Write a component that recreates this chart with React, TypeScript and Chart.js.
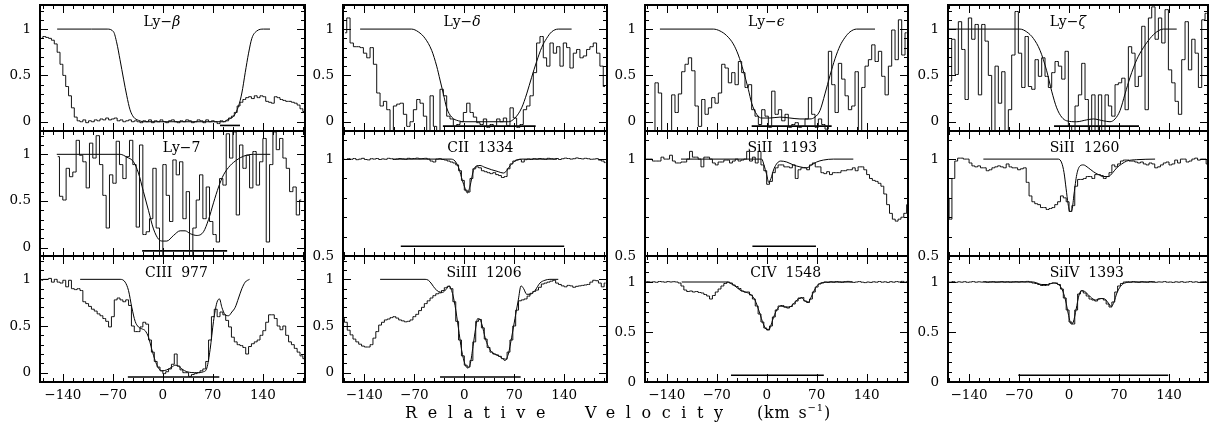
import React, { useEffect, useRef } from "react";
import { Chart, registerables } from "chart.js";

Chart.register(...registerables);

// ---------------- tick labels ----------------
const velocityTicks = [-140, -70, 0, 70, 140];
const fluxTicksFull = [0, 0.5, 1];
const fluxTicksZoom = [0.5, 1];

// ---------------- Ly-beta ----------------
const lyBetaStart = -170;
const lyBetaStep = 4;
const lyBetaFlux = [
  0.9, 0.92, 0.91, 0.9, 0.88,
  0.84, 0.75, 0.62, 0.5, 0.38, 0.28, 0.15, 0.05, 0.01,
  0.0, 0.02, -0.01, 0.01, 0.0, 0.02, 0.01, 0.03, 0.02, 0.04,
  0.02, 0.03, 0.04, 0.01, 0.02, 0.0, 0.01, 0.02, 0.0, 0.01,
  0.0, -0.01, 0.01, 0.0, 0.02, -0.01, 0.01, 0.0, 0.02, 0.0,
  -0.01, 0.01, 0.02, 0.0, -0.01, 0.01, 0.0, 0.02, 0.01, -0.01,
  0.0, 0.02, 0.01, -0.01, 0.02, 0.0, 0.01, 0.0, -0.02, 0.01,
  0.0, 0.01,
  0.04, 0.06, 0.1, 0.17, 0.21, 0.24, 0.26, 0.27, 0.25, 0.28,
  0.26, 0.28, 0.27, 0.22, 0.21, 0.2, 0.27, 0.26, 0.24, 0.23,
  0.22, 0.22, 0.21, 0.2, 0.18, 0.14, 0.11,
];
const lyBetaFit = [
  [-148, 1], [-100, 1], [-78, 1], [-69, 0.97], [-64.5, 0.85], [-60, 0.67], [-55, 0.46],
  [-50.5, 0.28], [-46, 0.13], [-41, 0.05], [-34, 0.015], [-27, 0], [85, 0], [90, 0.02],
  [99, 0.06], [106, 0.17], [110.6, 0.31], [115.3, 0.53], [120, 0.74], [124.6, 0.9],
  [131.6, 0.98], [141, 1], [150, 1],
];
const lyBetaBar = [80, 108, -0.04];

// ---------------- Ly-delta ----------------
const lyDeltaStart = -167.1;
const lyDeltaStep = 4.669;
const lyDeltaFlux = [
  0.96, 1.12, 0.85, 0.81, 0.81, 0.8, 0.74, 0.69, 0.8, 0.62,
  0.31, 0.17, 0.22, 0.13, -0.15, 0.17, 0.19, 0.2, 0.08, -0.05,
  0.0, 0.13, 0.24, 0.2, 0.06, -0.15, 0.28, -0.05, -0.15, 0.35,
  0.28, 0.06, 0.03, -0.05, -0.03, 0.0, 0.1, 0.2, 0.1, 0.05,
  -0.01, -0.03, 0.03, -0.06, -0.03, -0.05, 0.03, 0.0, 0.04, -0.04,
  0.15, 0.04, -0.06, -0.03, 0.13, 0.17, 0.28, 0.53, 0.85, 0.92,
  0.69, 0.6, 0.85, 0.74, 0.81, 0.6, 0.85, 0.8, 0.58, 0.74,
  0.78, 0.69, 0.71, 0.78, 0.81, 0.85, 0.74, 0.6, 0.38,
];
const lyDeltaFit = [
  [-146, 1], [-74, 1], [-64.4, 0.97], [-55, 0.9], [-45.7, 0.77], [-38.7, 0.6], [-34, 0.45],
  [-29.3, 0.3], [-24.7, 0.15], [-17.7, 0.05], [-8.3, 0.01], [1, 0], [61.7, 0], [71, 0.04],
  [80.4, 0.15], [87.4, 0.3], [94.4, 0.48], [101.4, 0.65], [108.4, 0.8], [115.4, 0.9],
  [122.4, 0.97], [131.7, 1], [150.4, 1],
];
const lyDeltaBar = [-30, 100, -0.047];

// ---------------- Ly-epsilon ----------------
const lyEpsStart = -168.1;
const lyEpsStep = 4.669;
const lyEpsFlux = [
  -0.15, -0.15, -0.15, 0.42, 0.31, -0.15, -0.15, -0.15, 0.29, 0.1,
  0.3, 0.54, 0.62, 0.69, 0.55, 0.17, -0.05, 0.24, 0.08, 0.15,
  0.26, 0.2, 0.31, 0.62, 0.58, 0.42, 0.53, 0.4, 0.65, 0.53,
  0.37, 0.4, 0.13, 0.06, -0.03, 0.13, 0.06, -0.06, 0.33, 0.08,
  0.13, 0.01, 0.08, -0.06, -0.03, -0.01, -0.06, -0.05, 0.03, 0.26,
  0.08, -0.06, 0.03, -0.03, -0.08, 0.76, 0.4, 0.1, 0.63, 0.46,
  0.28, 0.13, 0.17, 0.54, -0.15, 0.37, 0.6, 0.67, 0.83, 0.65,
  0.76, 0.49, 0.29, 0.6, 0.99, 0.67, 1.1, 0.72, 0.96,
];
const lyEpsFit = [
  [-149.5, 1], [-74.8, 1], [-65.4, 0.98], [-56.1, 0.93], [-46.8, 0.84], [-39.7, 0.72],
  [-32.7, 0.55], [-25.7, 0.35], [-21, 0.2], [-14, 0.08], [-7, 0.04], [4.6, 0.04],
  [18.6, 0.05], [32.6, 0.04], [46.6, 0.03], [60.6, 0.03], [67.6, 0.05], [74.6, 0.12],
  [81.6, 0.3], [88.7, 0.5], [95.7, 0.68], [102.7, 0.82], [109.7, 0.91], [116.7, 0.97],
  [126, 1], [151.7, 1],
];
const lyEpsBar = [-21, 91, -0.047];

// ---------------- Ly-zeta ----------------
const lyZetaStart = -166.7;
const lyZetaStep = 4.669;
const lyZetaFlux = [
  0.44, 0.89, 0.51, 1.08, 0.78, 0.24, 1.12, 0.89, 1.05, 0.29,
  1.05, 0.87, 0.5, -0.15, 0.6, 0.2, 0.54, -0.15, 0.13, 0.72,
  1.19, 0.74, 0.37, 0.92, 0.38, 0.35, 0.67, 0.49, 0.69, 0.49,
  0.37, 0.53, 0.65, 0.6, 0.46, 0.76, -0.05, -0.15, 0.17, 0.29,
  0.63, 0.24, -0.15, 0.29, -0.15, 0.29, -0.15, 0.29, 0.17, 0.06,
  0.4, 0.42, 0.47, 0.13, 0.81, 0.74, 0.38, 0.49, 1.03, 0.13,
  1.12, 1.24, 0.89, 1.12, 0.85, 1.21, 0.56, 0.42, 0.22, 0.08,
  0.67, 1.08, 0.56, 0.89, 0.74, 0.37, 1.1, 1.17,
];
const lyZetaFit = [
  [-169, 1], [-68.6, 1], [-59.3, 0.97], [-50, 0.9], [-40.6, 0.77], [-31.3, 0.55],
  [-24.3, 0.33], [-17.3, 0.15], [-10.3, 0.05], [-3.3, 0.01], [10.7, 0], [24.7, 0.02],
  [34, 0.03], [48.1, 0.01], [57.4, 0], [64.4, 0.03], [71.4, 0.12], [78.4, 0.3],
  [85.5, 0.48], [94.8, 0.67], [104.1, 0.8], [113.5, 0.9], [122.8, 0.97], [132.1, 1],
  [150.8, 1],
];
const lyZetaBar = [-21, 98, -0.047];

// ---------------- Ly-7 ----------------
const ly7Start = -147.1;
const ly7Step = 4.669;
const ly7Flux = [
  0.975, 0.55, 0.51, 0.85, 0.76, 0.81, 1.15, 0.99, 0.92, 0.64,
  1.12, 0.96, 1.2, 0.89, 0.56, 0.21, 0.78, 0.69, 1.14, 0.89,
  0.74, 0.975, 1.15, 0.89, 0.22, 1.1, 0.14, 0.17, 0.31, 0.85,
  0.21, -0.15, 0.89, 0.56, 0.28, 0.94, 0.78, 0.92, 0.31, 0.6,
  -0.15, 0.21, 0.51, 0.78, 0.31, 0.65, 0.28, 0.14, 0.06, 0.74,
  0.67, 1.22, 0.96, 1.24, 0.35, 1.1, 0.85, 0.99, 0.64, 1.03,
  0.67, 0.92, 1.17, 0.06, 0.89, 1.24, 1.05, 1.17, 0.96, 0.85,
  0.6, 0.65, 0.35, 0.51,
];
const ly7Fit = [
  [-148.5, 1], [-59.8, 1], [-50.5, 0.97], [-41.1, 0.92], [-34.2, 0.8], [-27.2, 0.6],
  [-20.2, 0.4], [-13.1, 0.2], [-6.1, 0.09], [0, 0.07], [5.5, 0.07], [14.9, 0.13],
  [24.2, 0.18], [31.2, 0.18], [38.2, 0.15], [47.6, 0.13], [56.9, 0.17], [63.9, 0.3],
  [70.9, 0.48], [78, 0.65], [85, 0.78], [94.3, 0.88], [103.6, 0.94], [113, 0.98],
  [127, 1], [150.3, 1],
];
const ly7Bar = [-29, 90, -0.035];

// ---------------- CII 1334 ----------------
const ciiStart = -170;
const ciiStep = 4;
const ciiFlux = [
  1.0, 0.998, 1.002, 0.999, 1.003, 0.997, 1.0, 1.004, 0.998, 0.996,
  1.002, 1.0, 1.003, 0.998, 1.001, 0.999, 1.004, 1.002, 0.998, 1.0,
  1.003, 1.001, 0.999, 1.004, 1.002, 1.003, 1.005, 1.002, 1.003, 1.004,
  1.0, 0.99, 0.985, 1.0, 1.002, 0.998, 0.995, 0.99, 0.985, 0.98,
  0.97, 0.94, 0.89, 0.84, 0.83, 0.9, 0.95, 0.96, 0.955, 0.94,
  0.935, 0.93, 0.925, 0.93, 0.92, 0.915, 0.905, 0.91, 0.95, 0.975,
  0.99, 0.995, 0.998, 0.985, 0.997, 1.0,
  0.998, 1.002, 1.0, 1.003, 1.001, 0.999, 1.004, 1.002, 1.0, 1.003,
  0.998, 1.002, 1.005, 1.003, 1.0, 1.002, 1.006, 1.003, 1.001, 1.004,
  1.002, 0.999, 1.0, 1.002, 0.995, 0.99, 0.982,
];
const ciiFit = [
  [-100, 1], [-20, 1], [-13, 0.99], [-7.4, 0.95], [-2.7, 0.89], [1, 0.85], [4.3, 0.825],
  [8, 0.86], [12.7, 0.94], [17.3, 0.965], [22, 0.967], [29, 0.957], [38.4, 0.945],
  [47.7, 0.935], [54.7, 0.928], [59.4, 0.94], [64, 0.965], [71, 0.99], [80, 1], [130, 1],
];
const ciiBar = [-89, 140, 0.55];

// ---------------- SiII 1193 ----------------
const siII1193Start = -170;
const siII1193Step = 4;
const siII1193Flux = [
  1.0, 1.0, 1.0, 0.99, 0.99, 0.99, 1.01, 1.0, 1.0, 1.02,
  0.99, 0.98, 0.98, 0.985, 0.985, 1.0, 1.04, 1.01, 1.01, 1.0,
  0.96, 1.01, 1.01, 1.0, 0.98, 0.97, 0.985, 0.985, 0.995, 0.995,
  0.98, 0.99, 1.0, 0.99, 0.995, 1.0, 1.04, 0.99, 1.01, 0.98,
  1.04, 0.97, 0.94, 0.87, 0.885, 0.93, 0.955, 0.97, 0.97, 0.96,
  0.96, 0.955, 0.97, 0.9, 0.945, 0.955, 0.955, 0.945, 0.97, 0.98,
  0.96, 0.96, 0.93, 0.925, 0.935, 0.92, 0.93, 0.93, 0.93, 0.94,
  0.94, 0.945, 0.945, 0.955, 0.94, 0.96, 0.96, 0.945, 0.92, 0.9,
  0.89, 0.885, 0.875, 0.86, 0.82, 0.765, 0.72, 0.69, 0.68, 0.69,
  0.7, 0.72, 0.765,
];
const siII1193Fit = [
  [-120, 1], [-7, 1], [-3.8, 0.97], [0, 0.92], [2.8, 0.88], [6, 0.9], [10.2, 0.95],
  [14.9, 0.98], [19.6, 0.99], [28, 0.985], [37.3, 0.97], [46.6, 0.96], [56, 0.955],
  [63, 0.97], [70, 0.985], [79.3, 0.995], [93.3, 1], [121.3, 1],
];
const siII1193Bar = [-20, 69, 0.55];

// ---------------- SiII 1260 ----------------
const siII1260Start = -170;
const siII1260Step = 4;
const siII1260Flux = [
  0.8, 0.69, 0.9, 0.99, 1.005, 1.005, 1.0, 1.0, 0.98, 0.965,
  0.96, 0.965, 0.955, 0.955, 0.94, 0.945, 0.955, 0.96, 0.965, 0.96,
  0.955, 0.975, 0.96, 0.955, 0.955, 0.945, 0.95, 0.955, 0.88, 0.81,
  0.78, 0.77, 0.765, 0.75, 0.75, 0.74, 0.745, 0.75, 0.765, 0.78,
  0.81, 0.8, 0.78, 0.73, 0.76, 0.86, 0.895, 0.895, 0.9, 0.91,
  0.91, 0.9, 0.92, 0.92, 0.915, 0.9, 0.91, 0.93, 0.97, 0.96,
  0.975, 0.99, 0.995, 0.995, 0.99, 0.99, 0.985, 0.98, 0.985, 0.975,
  0.97, 0.98, 0.975, 0.955, 0.96, 0.97, 0.98, 0.985, 0.97, 0.975,
  0.995, 0.98, 1.0, 1.0, 0.985, 0.99, 1.0, 1.005, 0.995, 1.0,
  1.0, 0.975,
];
const siII1260Fit = [
  [-120, 1], [-15, 1], [-10.2, 0.98], [-7, 0.93], [-4.2, 0.85], [-1.4, 0.77], [1.4, 0.73],
  [4.2, 0.74], [7, 0.82], [10.8, 0.92], [15.4, 0.965], [20, 0.97], [27, 0.955],
  [34.1, 0.935], [41.1, 0.92], [48.1, 0.91], [55.1, 0.91], [61.2, 0.93], [66.8, 0.955],
  [73.8, 0.975], [80.8, 0.99], [94.8, 0.997], [120.5, 1],
];

// ---------------- CIII 977 ----------------
const ciiiStart = -170;
const ciiiStep = 4;
const ciiiFlux = [
  0.99, 1.0, 1.0, 1.01, 0.97, 1.0, 0.97, 0.96, 0.99, 0.92,
  0.99, 0.9, 0.89, 0.9, 0.88, 0.76, 0.74, 0.71, 0.68, 0.66,
  0.63, 0.61, 0.58, 0.55, 0.49, 0.6, 0.78, 0.8, 0.78, 0.76,
  0.78, 0.72, 0.5, 0.44, 0.44, 0.49, 0.54, 0.52, 0.35, 0.22,
  0.12, 0.06, 0.02, -0.01, 0.01, 0.04, 0.09, 0.2, 0.07, 0.03,
  0.0, 0.0, -0.04, -0.02, -0.01, 0.0, 0.02, 0.04, 0.12, 0.35,
  0.6, 0.68, 0.6, 0.65, 0.62, 0.56, 0.49, 0.38, 0.33, 0.3,
  0.29, 0.27, 0.2, 0.28, 0.31, 0.33, 0.35, 0.4, 0.45, 0.54,
  0.62, 0.62, 0.58, 0.5, 0.46, 0.5, 0.4, 0.33, 0.3, 0.26,
  0.22, 0.18, 0.15,
];
const ciiiFit = [
  [-115.8, 1], [-59.8, 1], [-52.8, 0.97], [-48.1, 0.88], [-43.5, 0.7], [-38.8, 0.55],
  [-34.2, 0.49], [-29.5, 0.47], [-24.8, 0.45], [-20.1, 0.38], [-15.5, 0.25], [-10.8, 0.13],
  [-6.1, 0.05], [-1.5, 0.02], [5.5, 0.03], [12.6, 0.06], [17.2, 0.08], [21.9, 0.07],
  [26.6, 0.04], [33.6, 0.01], [47.6, 0], [56.9, 0.01], [61.6, 0.05], [66.2, 0.25],
  [70.9, 0.55], [75.6, 0.75], [79.3, 0.79], [82.6, 0.7], [87.3, 0.62], [92, 0.61],
  [96.6, 0.65], [101.3, 0.7], [106, 0.8], [110.6, 0.9], [115.3, 0.97], [121.3, 1],
];
const ciiiBar = [-49, 79, -0.047];

// ---------------- SiIII 1206 ----------------
const siIIIStart = -170;
const siIIIStep = 4;
const siIIIFlux = [
  0.58, 0.54, 0.455, 0.405, 0.36, 0.33, 0.305, 0.285, 0.275, 0.275,
  0.3, 0.37, 0.44, 0.51, 0.54, 0.565, 0.575, 0.59, 0.6, 0.585,
  0.565, 0.555, 0.545, 0.55, 0.565, 0.6, 0.625, 0.665, 0.7, 0.74,
  0.77, 0.8, 0.825, 0.845, 0.855, 0.88, 0.91, 0.925, 0.9, 0.76,
  0.55, 0.35, 0.18, 0.08, 0.06, 0.13, 0.33, 0.55, 0.57, 0.48,
  0.36, 0.27, 0.22, 0.2, 0.19, 0.175, 0.15, 0.145, 0.22, 0.35,
  0.5, 0.67, 0.77, 0.78, 0.79, 0.82, 0.85, 0.87, 0.885, 0.915,
  0.95, 0.96, 0.97, 0.98, 0.99, 0.96, 0.945, 0.93, 0.92, 0.935,
  0.93, 0.915, 0.925, 0.93, 0.935, 0.94, 0.945, 0.97, 0.99, 0.985,
  0.96, 0.92, 0.96,
];
const siIIIFit = [
  [-118, 1], [-55, 1], [-50.3, 0.99], [-45.7, 0.95], [-41, 0.9], [-36.3, 0.87],
  [-30.7, 0.86], [-24.7, 0.9], [-21.4, 0.93], [-17.7, 0.88], [-13, 0.72], [-8.3, 0.48],
  [-3.7, 0.24], [1, 0.09], [4.7, 0.05], [8.5, 0.1], [12.2, 0.28], [16, 0.48], [18.8, 0.58],
  [22, 0.57], [25.3, 0.5], [29, 0.38], [33.7, 0.28], [38.4, 0.22], [45.4, 0.19],
  [52.4, 0.16], [57, 0.13], [61.7, 0.2], [66.4, 0.38], [71, 0.58], [75.7, 0.78],
  [79.5, 0.93], [83.2, 0.9], [87.4, 0.84], [92, 0.84], [99, 0.88], [106, 0.96],
  [113, 0.99], [120, 1], [131.7, 1],
];
const siIIIBar = [-34, 79, -0.047];

// ---------------- CIV 1548 ----------------
const civStart = -170;
const civStep = 4;
const civFlux = [
  1.0, 1.003, 0.998, 1.002, 0.997, 1.005, 1.002, 0.998, 1.004, 1.0,
  1.003, 1.0, 0.99, 0.96, 0.92, 0.905, 0.91, 0.9, 0.905, 0.895,
  0.89, 0.875, 0.86, 0.83, 0.865, 0.9, 0.93, 0.96, 0.985, 1.0,
  0.99, 0.97, 0.955, 0.935, 0.91, 0.9, 0.9, 0.87, 0.83, 0.76,
  0.68, 0.6, 0.54, 0.52, 0.56, 0.65, 0.72, 0.76, 0.765, 0.75,
  0.74, 0.755, 0.78, 0.81, 0.84, 0.845, 0.81, 0.795, 0.83, 0.9,
  0.95, 0.98, 0.99, 1.0, 0.995, 1.002, 0.998, 1.004, 1.0, 0.997,
  1.003, 1.006, 1.002, 0.996, 1.0, 1.004, 0.998, 0.994, 1.0, 0.996,
  1.002, 0.998, 1.005, 0.998, 1.002, 0.996, 1.003, 0.998, 1.004, 1.0,
  1.006, 0.998, 1.005,
];
const civFit = [
  [-119, 1], [-56, 1], [-51.4, 0.99], [-44.4, 0.96], [-37.4, 0.92], [-30.4, 0.9],
  [-23.4, 0.88], [-16.4, 0.82], [-10.3, 0.7], [-4.7, 0.58], [0, 0.525], [3.7, 0.53],
  [8.3, 0.62], [14, 0.72], [19.5, 0.76], [25.6, 0.75], [31.7, 0.75], [37.3, 0.78],
  [44.3, 0.83], [49, 0.84], [53.6, 0.81], [58.3, 0.8], [63, 0.86], [67.6, 0.93],
  [72.3, 0.975], [79.3, 0.995], [88.6, 1], [120, 1],
];
const civBar = [-50, 80, 0.068];

// ---------------- SiIV 1393 ----------------
const siIVStart = -170;
const siIVStep = 4;
const siIVFlux = [
  1.0, 0.998, 1.004, 0.996, 1.002, 0.998, 1.003, 0.997, 1.0, 1.004,
  0.998, 1.002, 0.999, 1.003, 0.997, 1.001, 1.003, 0.998, 1.0, 1.004,
  0.999, 1.002, 0.998, 1.001, 1.003, 1.0, 1.004, 1.002, 1.006, 1.0,
  0.99, 0.985, 0.975, 0.965, 0.965, 0.968, 0.985, 0.99, 0.99, 0.975,
  0.93, 0.84, 0.72, 0.6, 0.58, 0.72, 0.88, 0.91, 0.89, 0.86,
  0.83, 0.82, 0.81, 0.83, 0.835, 0.82, 0.78, 0.75, 0.8, 0.9,
  0.96, 0.985, 1.0, 1.002, 0.998, 1.004, 1.0, 0.997, 1.003, 1.0,
  0.998, 1.005, 1.002, 0.997, 1.001, 0.999, 1.004, 0.998, 1.0, 0.996,
  1.002, 0.998, 1.003, 0.997, 1.0, 1.004, 0.998, 1.002, 0.996, 1.001,
  1.003, 0.999,
];
const siIVFit = [
  [-120, 1], [-50, 1], [-45, 0.99], [-38, 0.975], [-30, 0.975], [-22, 0.99], [-15, 0.975],
  [-10, 0.93], [-5, 0.82], [-1, 0.68], [3, 0.58], [6, 0.6], [10, 0.73], [14, 0.87],
  [18, 0.915], [23, 0.9], [30, 0.85], [37, 0.82], [44, 0.835], [50, 0.83], [55, 0.79],
  [59, 0.755], [63, 0.8], [67, 0.89], [72, 0.955], [78, 0.99], [90, 1], [120, 1],
];
const siIVBar = [-71, 139, 0.068];

// ---------------- layout (pixels) ----------------
const COL_LEFT = [40, 343, 645, 948];
const COL_RIGHT = [305, 607, 908, 1208];
const COL_VMIN = [-172, -170, -170.4, -169.5];
const COL_VMAX = [199, 200, 197.9, 194.6];
const ROW_TOP = [5, 131, 256];
const ROW_BOTTOM = [131, 256, 382];
const PAD = 12;
const Y_AXIS_W = 40;
const X_AXIS_H = 28;
const FONT = '"DejaVu Serif", serif';

type Panel = {
  title: string;
  greek?: string;
  titleV: number;
  col: number;
  row: number;
  yMin: number;
  yMax: number;
  yTicks: number[];
  start: number;
  step: number;
  flux: number[];
  fit: number[][];
  bar?: number[];
};

const panels: Panel[] = [
  { title: "Ly\u2212", greek: "\u03b2", titleV: -27, col: 0, row: 0, yMin: -0.1, yMax: 1.26, yTicks: fluxTicksFull, start: lyBetaStart, step: lyBetaStep, flux: lyBetaFlux, fit: lyBetaFit, bar: lyBetaBar },
  { title: "Ly\u2212", greek: "\u03b4", titleV: -29, col: 1, row: 0, yMin: -0.1, yMax: 1.26, yTicks: fluxTicksFull, start: lyDeltaStart, step: lyDeltaStep, flux: lyDeltaFlux, fit: lyDeltaFit, bar: lyDeltaBar },
  { title: "Ly\u2212", greek: "\u03f5", titleV: -26, col: 2, row: 0, yMin: -0.1, yMax: 1.26, yTicks: fluxTicksFull, start: lyEpsStart, step: lyEpsStep, flux: lyEpsFlux, fit: lyEpsFit, bar: lyEpsBar },
  { title: "Ly\u2212", greek: "\u03b6", titleV: -27, col: 3, row: 0, yMin: -0.1, yMax: 1.26, yTicks: fluxTicksFull, start: lyZetaStart, step: lyZetaStep, flux: lyZetaFlux, fit: lyZetaFit, bar: lyZetaBar },
  { title: "Ly\u22127", titleV: 0, col: 0, row: 1, yMin: -0.09, yMax: 1.25, yTicks: fluxTicksFull, start: ly7Start, step: ly7Step, flux: ly7Flux, fit: ly7Fit, bar: ly7Bar },
  { title: "CII  1334", titleV: -24, col: 1, row: 1, yMin: 0.5, yMax: 1.145, yTicks: fluxTicksZoom, start: ciiStart, step: ciiStep, flux: ciiFlux, fit: ciiFit, bar: ciiBar },
  { title: "SiII  1193", titleV: -27, col: 2, row: 1, yMin: 0.5, yMax: 1.145, yTicks: fluxTicksZoom, start: siII1193Start, step: siII1193Step, flux: siII1193Flux, fit: siII1193Fit, bar: siII1193Bar },
  { title: "SiII  1260", titleV: -27, col: 3, row: 1, yMin: 0.5, yMax: 1.145, yTicks: fluxTicksZoom, start: siII1260Start, step: siII1260Step, flux: siII1260Flux, fit: siII1260Fit },
  { title: "CIII  977", titleV: -25, col: 0, row: 2, yMin: -0.1, yMax: 1.25, yTicks: fluxTicksFull, start: ciiiStart, step: ciiiStep, flux: ciiiFlux, fit: ciiiFit, bar: ciiiBar },
  { title: "SiIII  1206", titleV: -25, col: 1, row: 2, yMin: -0.1, yMax: 1.25, yTicks: fluxTicksFull, start: siIIIStart, step: siIIIStep, flux: siIIIFlux, fit: siIIIFit, bar: siIIIBar },
  { title: "CIV  1548", titleV: -23, col: 2, row: 2, yMin: 0, yMax: 1.26, yTicks: fluxTicksFull, start: civStart, step: civStep, flux: civFlux, fit: civFit, bar: civBar },
  { title: "SiIV  1393", titleV: -27, col: 3, row: 2, yMin: 0, yMax: 1.26, yTicks: fluxTicksFull, start: siIVStart, step: siIVStep, flux: siIVFlux, fit: siIVFit, bar: siIVBar },
];

const fmt = (v: number) => (v < 0 ? "\u2212" + Math.abs(v) : String(v));

function framePlugin(p: Panel) {
  return {
    id: "frame",
    afterDraw(chart: any) {
      const { ctx, chartArea } = chart;
      const { left, right, top, bottom } = chartArea;
      const xs = chart.scales.x;
      const ys = chart.scales.y;
      ctx.save();
      ctx.strokeStyle = "#000";
      ctx.lineWidth = 1;
      ctx.beginPath();
      const vmin = COL_VMIN[p.col];
      const vmax = COL_VMAX[p.col];
      for (let k = Math.ceil(vmin / 14); k <= Math.floor(vmax / 14); k++) {
        const px = Math.round(xs.getPixelForValue(k * 14)) + 0.5;
        const len = k % 5 === 0 ? 8 : 4;
        ctx.moveTo(px, bottom);
        ctx.lineTo(px, bottom - len);
        ctx.moveTo(px, top);
        ctx.lineTo(px, top + len);
      }
      for (let k = Math.ceil(p.yMin * 10 - 1e-6); k <= Math.floor(p.yMax * 10 + 1e-6); k++) {
        const py = Math.round(ys.getPixelForValue(k / 10)) + 0.5;
        const len = k % 5 === 0 ? 8 : 4;
        ctx.moveTo(left, py);
        ctx.lineTo(left + len, py);
        ctx.moveTo(right, py);
        ctx.lineTo(right - len, py);
      }
      ctx.stroke();
      ctx.lineWidth = 2;
      ctx.strokeRect(left, top, right - left, bottom - top);
      // title
      ctx.fillStyle = "#000";
      ctx.font = "14px " + FONT;
      ctx.textAlign = "left";
      ctx.textBaseline = "alphabetic";
      const tx = xs.getPixelForValue(p.titleV);
      ctx.fillText(p.title, tx, top + 21);
      if (p.greek) {
        const w = ctx.measureText(p.title).width;
        ctx.font = "italic 14px " + FONT;
        ctx.fillText(p.greek, tx + w, top + 21);
      }
      ctx.restore();
    },
  };
}

function PanelChart({ p }: { p: Panel }) {
  const ref = useRef<HTMLCanvasElement>(null);
  const isBottom = p.row === 2;
  const pw = COL_RIGHT[p.col] - COL_LEFT[p.col];
  const ph = ROW_BOTTOM[p.row] - ROW_TOP[p.row];
  const w = pw + Y_AXIS_W + PAD;
  const h = ph + 2 * PAD + (isBottom ? X_AXIS_H : 0);
  const left = COL_LEFT[p.col] - Y_AXIS_W;
  const top = ROW_TOP[p.row] - PAD;

  useEffect(() => {
    if (!ref.current) return;
    const fluxPts = p.flux.map((f, i) => ({ x: p.start + i * p.step, y: f }));
    const fitPts = p.fit.map(([v, f]) => ({ x: v, y: f }));
    const datasets: any[] = [
      { data: fluxPts, borderColor: "#111", borderWidth: 1, stepped: "middle", pointRadius: 0, fill: false },
      { data: fitPts, borderColor: "#000", borderWidth: 1, cubicInterpolationMode: "monotone", pointRadius: 0, fill: false },
    ];
    if (p.bar) {
      datasets.push({
        data: [{ x: p.bar[0], y: p.bar[2] }, { x: p.bar[1], y: p.bar[2] }],
        borderColor: "#000",
        borderWidth: 1.6,
        pointRadius: 0,
        fill: false,
      });
    }
    const chart = new Chart(ref.current, {
      type: "line",
      data: { datasets },
      options: {
        animation: false,
        responsive: false,
        devicePixelRatio: 1,
        events: [],
        layout: { padding: { left: 0, right: PAD, top: PAD, bottom: PAD } },
        plugins: { legend: { display: false }, tooltip: { enabled: false }, title: { display: false } },
        scales: {
          x: {
            type: "linear",
            min: COL_VMIN[p.col],
            max: COL_VMAX[p.col],
            display: isBottom,
            position: "bottom",
            grid: { display: false, drawTicks: false },
            border: { display: false },
            afterBuildTicks: (axis: any) => {
              axis.ticks = velocityTicks.map((v) => ({ value: v }));
            },
            afterFit: (axis: any) => {
              axis.height = isBottom ? X_AXIS_H : 0;
              axis.paddingLeft = 0;
              axis.paddingRight = 0;
              axis.paddingTop = 0;
              axis.paddingBottom = 0;
            },
            ticks: {
              autoSkip: false,
              maxRotation: 0,
              minRotation: 0,
              padding: 5,
              color: "#000",
              font: { family: FONT, size: 13.5 },
              callback: (v: any) => fmt(Number(v)),
            },
          },
          y: {
            type: "linear",
            min: p.yMin,
            max: p.yMax,
            position: "left",
            grid: { display: false, drawTicks: false },
            border: { display: false },
            afterBuildTicks: (axis: any) => {
              axis.ticks = p.yTicks.map((v) => ({ value: v }));
            },
            afterFit: (axis: any) => {
              axis.width = Y_AXIS_W;
              axis.paddingTop = 0;
              axis.paddingBottom = 0;
              axis.paddingLeft = 0;
              axis.paddingRight = 0;
            },
            ticks: {
              autoSkip: false,
              padding: 9,
              color: "#000",
              font: { family: FONT, size: 13.5 },
              callback: (v: any) => fmt(Number(v)),
            },
          },
        },
      } as any,
      plugins: [framePlugin(p)],
    });
    return () => chart.destroy();
  }, []);

  return (
    <canvas
      ref={ref}
      width={w}
      height={h}
      style={{ position: "absolute", left, top, width: w, height: h }}
    />
  );
}

export default function App() {
  const titleStyle: React.CSSProperties = {
    position: "absolute",
    top: 405,
    fontFamily: FONT,
    fontSize: 16,
    lineHeight: "16px",
    color: "#000",
    whiteSpace: "nowrap",
  };
  return (
    <div style={{ position: "fixed", left: 0, top: 0, width: 1210, height: 430, background: "#fff", overflow: "hidden" }}>
      {panels.map((p, i) => (
        <PanelChart key={i} p={p} />
      ))}
      <span style={{ ...titleStyle, left: 405, letterSpacing: "10.6px" }}>Relative</span>
      <span style={{ ...titleStyle, left: 585, letterSpacing: "10.6px" }}>Velocity</span>
      <span style={{ ...titleStyle, left: 757, letterSpacing: "0.8px" }}>
        (km<span style={{ marginLeft: 8 }}>s</span>
        <sup style={{ fontSize: 10, verticalAlign: "7px", lineHeight: 0 }}>{"\u22121"}</sup>)
      </span>
    </div>
  );
}
